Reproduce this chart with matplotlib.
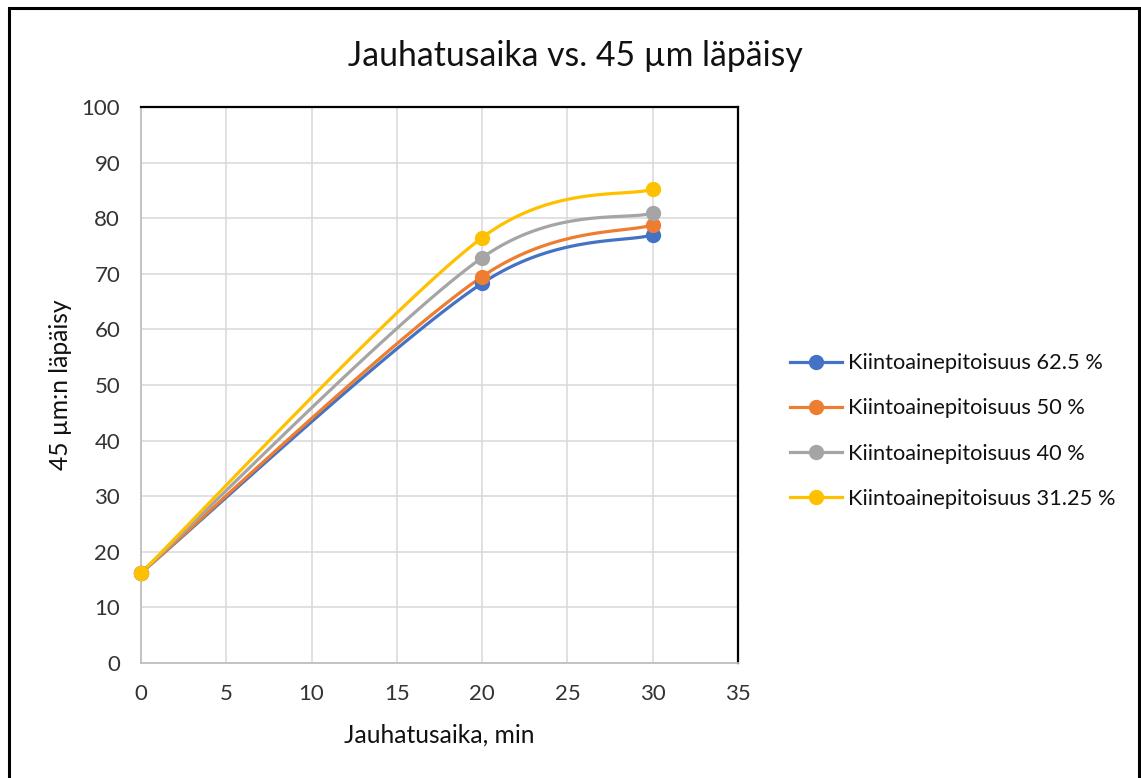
import matplotlib
matplotlib.use("Agg")
import matplotlib.pyplot as plt
from matplotlib.patches import Rectangle
import numpy as np

plt.rcParams["font.family"] = ["Lato", "DejaVu Sans"]

# Values
times = [0, 20, 30]
series_labels = [
    "Kiintoainepitoisuus 62.5 %",
    "Kiintoainepitoisuus 50 %",
    "Kiintoainepitoisuus 40 %",
    "Kiintoainepitoisuus 31.25 %",
]
pass_625 = [16.2, 68.3, 77.0]
pass_50 = [16.2, 69.5, 78.8]
pass_40 = [16.2, 72.9, 80.9]
pass_3125 = [16.2, 76.5, 85.2]
colors = ["#4472C4", "#ED7D31", "#A5A5A5", "#FFC000"]

x_ticks = [0, 5, 10, 15, 20, 25, 30, 35]
y_ticks = [0, 10, 20, 30, 40, 50, 60, 70, 80, 90, 100]


def smooth_curve(ax, xs, ys, tension=1 / 6, n=60):
    # Excel-like smoothed line: cubic Bezier between points, computed in pixel space
    pts = ax.transData.transform(np.column_stack([xs, ys]))
    out = [pts[:1]]
    m = len(pts)
    for i in range(m - 1):
        p0 = pts[max(i - 1, 0)]
        p1 = pts[i]
        p2 = pts[i + 1]
        p3 = pts[min(i + 2, m - 1)]
        seg = np.linalg.norm(p2 - p1)
        d1 = (p2 - p0) * tension
        d2 = (p3 - p1) * tension
        for d in (d1, d2):
            ln = np.linalg.norm(d)
            if ln > seg / 2:
                d *= (seg / 2) / ln
        c1 = p1 + d1
        c2 = p2 - d2
        t = np.linspace(0, 1, n)[1:, None]
        b = ((1 - t) ** 3) * p1 + 3 * t * (1 - t) ** 2 * c1 + 3 * t ** 2 * (1 - t) * c2 + t ** 3 * p2
        out.append(b)
    curve = np.vstack(out)
    data = ax.transData.inverted().transform(curve)
    return data[:, 0], data[:, 1]


fig = plt.figure(figsize=(11.41, 7.78), dpi=100)
ax = fig.add_axes([141 / 1141, 1 - 663 / 778, 597 / 1141, 556 / 778])
ax.set_xlim(0, 35)
ax.set_ylim(0, 100)
ax.set_xticks(x_ticks)
ax.set_yticks(y_ticks)
ax.grid(True, color="#D9D9D9", linewidth=1.1)
ax.set_axisbelow(True)
ax.tick_params(length=0, labelsize=16, colors="#333333")
ax.tick_params(axis="x", pad=15)
ax.tick_params(axis="y", pad=15)
for side in ("top", "right"):
    ax.spines[side].set_color("black")
    ax.spines[side].set_linewidth(1.6)
for side in ("left", "bottom"):
    ax.spines[side].set_color("#BFBFBF")
    ax.spines[side].set_linewidth(1.3)

all_series = [pass_625, pass_50, pass_40, pass_3125]
for vals, col, lab in zip(all_series, colors, series_labels):
    sx, sy = smooth_curve(ax, times, vals)
    ax.plot(sx, sy, color=col, linewidth=2.3, zorder=3, solid_capstyle="round")
    ax.plot(times, vals, linestyle="none", marker="o", markersize=10,
            color=col, zorder=4, clip_on=False)
    ax.plot([], [], color=col, linewidth=2.3, marker="o", markersize=10, label=lab)

ax.set_xlabel("Jauhatusaika, min", fontsize=17.7, color="#111111")
ax.xaxis.set_label_coords(0.5, (663 - 735) / 556)
ax.xaxis.label.set_va("center")
ax.set_ylabel("45 µm:n läpäisy", fontsize=17.7, color="#111111")
ax.yaxis.set_label_coords((60 - 141) / 597, 0.5)
ax.yaxis.label.set_va("center")

fig.suptitle("Jauhatusaika vs. 45 µm läpäisy", x=575 / 1141, y=1 - 56 / 778,
             va="center", fontsize=24.3, color="#111111")

fig.legend(loc="center left", bbox_to_anchor=(781 / 1141, 1 - 431 / 778),
           borderaxespad=0, frameon=False, fontsize=15.7, handlelength=2.38,
           handletextpad=0.28, labelspacing=1.15, labelcolor="#111111")

fig.patches.append(Rectangle((9 / 1141, -0.01), 1130 / 1141, 1 - 8 / 778 + 0.01,
                             transform=fig.transFigure, fill=False,
                             edgecolor="black", linewidth=2.2))

fig.savefig("out.png", dpi=100)
